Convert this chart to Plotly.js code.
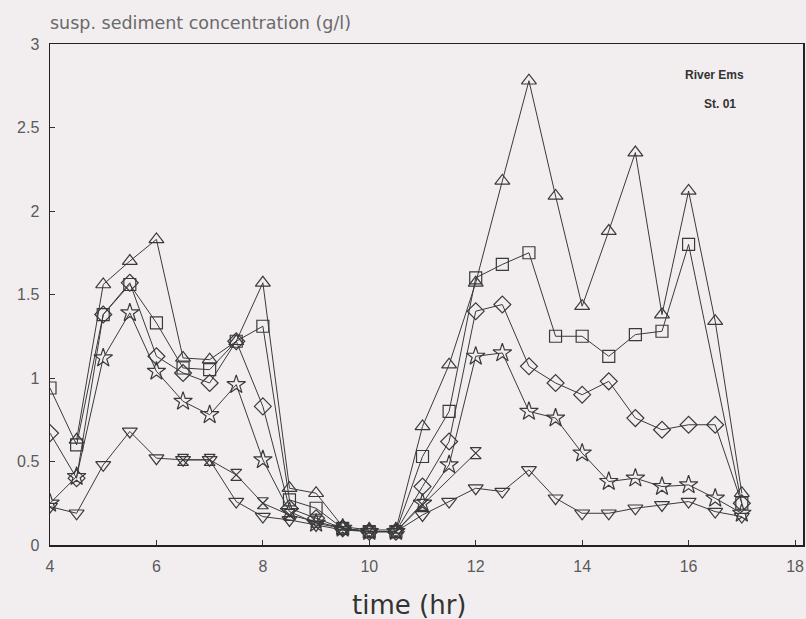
<!DOCTYPE html>
<html>
<head>
<meta charset="utf-8">
<script src="https://cdn.plot.ly/plotly-3.0.1.min.js"></script>
<style>
html,body{margin:0;padding:0;background:#f2eef0;}
#chart{width:806px;height:619px;}
</style>
</head>
<body>
<div id="chart"></div>
<script>
// time (hr)
const time = [4, 4.5, 5, 5.5, 6, 6.5, 7, 7.5, 8, 8.5, 9, 9.5, 10, 10.5, 11, 11.5, 12, 12.5, 13, 13.5, 14, 14.5, 15, 15.5, 16, 16.5, 17];

// susp. sediment concentration (g/l) per series
const triUp    = [null, 0.63, 1.56, 1.70, 1.83, 1.12, 1.11, 1.22, 1.57, 0.34, 0.31, 0.11, 0.09, 0.09, 0.71, 1.08, 1.57, 2.18, 2.78, 2.09, 1.43, 1.88, 2.35, 1.38, 2.12, 1.34, 0.31];
const square   = [0.94, 0.60, 1.38, 1.56, 1.33, 1.06, 1.05, 1.22, 1.31, 0.27, 0.22, 0.10, 0.08, 0.08, 0.53, 0.80, 1.60, 1.68, 1.75, 1.25, 1.25, 1.13, 1.26, 1.28, 1.80, null, 0.25];
const diamond  = [0.67, 0.40, 1.38, 1.57, 1.13, 1.03, 0.97, 1.22, 0.83, 0.22, 0.16, 0.10, 0.08, 0.08, 0.35, 0.62, 1.40, 1.44, 1.07, 0.97, 0.90, 0.98, 0.76, 0.69, 0.72, 0.72, 0.25];
const star     = [0.25, 0.41, 1.12, 1.39, 1.04, 0.86, 0.78, 0.96, 0.51, 0.20, 0.13, 0.10, 0.08, 0.08, 0.25, 0.48, 1.13, 1.15, 0.80, 0.76, 0.55, 0.38, 0.40, 0.35, 0.36, 0.28, 0.19];
const triDown  = [0.23, 0.19, 0.48, 0.68, 0.52, 0.51, 0.51, 0.26, 0.17, 0.15, 0.12, 0.09, 0.08, 0.08, 0.18, 0.26, 0.34, 0.32, 0.45, 0.28, 0.19, 0.19, 0.22, 0.24, 0.26, 0.20, 0.17];
const hourglass= [null, null, null, null, null, 0.51, 0.51, 0.42, 0.25, 0.18, 0.14, 0.10, 0.08, 0.08, 0.24, null, 0.55, null, null, null, null, null, null, null, null, null, null];

const xTicks = [4, 6, 8, 10, 12, 14, 16, 18];
const yTicks = [0, 0.5, 1, 1.5, 2, 2.5, 3];
const yTickText = ['0', '0.5', '1', '1.5', '2', '2.5', '3'];

const lineCol = '#3a3a3a';
function series(y, symbol, size) {
  return {
    x: time, y: y, type: 'scatter', mode: 'lines+markers',
    connectgaps: true,
    line: {color: lineCol, width: 1},
    marker: {symbol: symbol, size: size, color: lineCol, line: {color: lineCol, width: 1.2}},
    showlegend: false, hoverinfo: 'x+y'
  };
}

const data = [
  series(triDown, 'triangle-down-open', 13),
  series(hourglass, 'hourglass-open', 11),
  series(star, 'star-open', 14),
  series(diamond, 'diamond-open', 13),
  series(square, 'square-open', 12),
  series(triUp, 'triangle-up-open', 13)
];

const tickFont = {family: 'Liberation Sans, Arial, sans-serif', size: 16, color: '#5a5a5a'};

const layout = {
  width: 806, height: 619,
  margin: {l: 50, r: 3, t: 44, b: 74},
  paper_bgcolor: '#f2eef0',
  plot_bgcolor: '#f2eef0',
  font: {family: 'Liberation Sans, Arial, sans-serif', color: '#444'},
  xaxis: {
    range: [4, 18.15], tickvals: xTicks, ticktext: xTicks.map(String),
    ticks: 'inside', ticklen: 5, tickcolor: '#333', tickwidth: 1,
    showline: true, linecolor: '#222', linewidth: 1.5, mirror: true,
    showgrid: false, zeroline: false, tickfont: tickFont, ticklabelstandoff: 6
  },
  yaxis: {
    range: [0, 3], tickvals: yTicks, ticktext: yTickText,
    ticks: 'inside', ticklen: 5, tickcolor: '#333', tickwidth: 1,
    showline: true, linecolor: '#222', linewidth: 1.5, mirror: true,
    showgrid: false, zeroline: false, tickfont: tickFont, ticklabelstandoff: 6
  },
  annotations: [
    {text: 'susp. sediment concentration (g/l)', xref: 'paper', yref: 'paper',
     x: -0.003, y: 1.042, xanchor: 'left', yanchor: 'middle', showarrow: false,
     font: {family: 'DejaVu Sans, sans-serif', size: 17.5, color: '#6a6a6a'}},
    {text: 'time (hr)', xref: 'paper', yref: 'paper',
     x: 0.477, y: -0.12, xanchor: 'center', yanchor: 'middle', showarrow: false,
     font: {family: 'DejaVu Sans, sans-serif', size: 26, color: '#333'}},
    {text: '<b>River Ems</b>', xref: 'paper', yref: 'paper',
     x: 0.882, y: 0.938, xanchor: 'center', yanchor: 'middle', showarrow: false,
     font: {family: 'Liberation Sans, Arial, sans-serif', size: 12, color: '#333'}},
    {text: '<b>St. 01</b>', xref: 'paper', yref: 'paper',
     x: 0.89, y: 0.88, xanchor: 'center', yanchor: 'middle', showarrow: false,
     font: {family: 'Liberation Sans, Arial, sans-serif', size: 12, color: '#333'}}
  ]
};

Plotly.newPlot('chart', data, layout, {displayModeBar: false, staticPlot: true});
</script>
</body>
</html>
